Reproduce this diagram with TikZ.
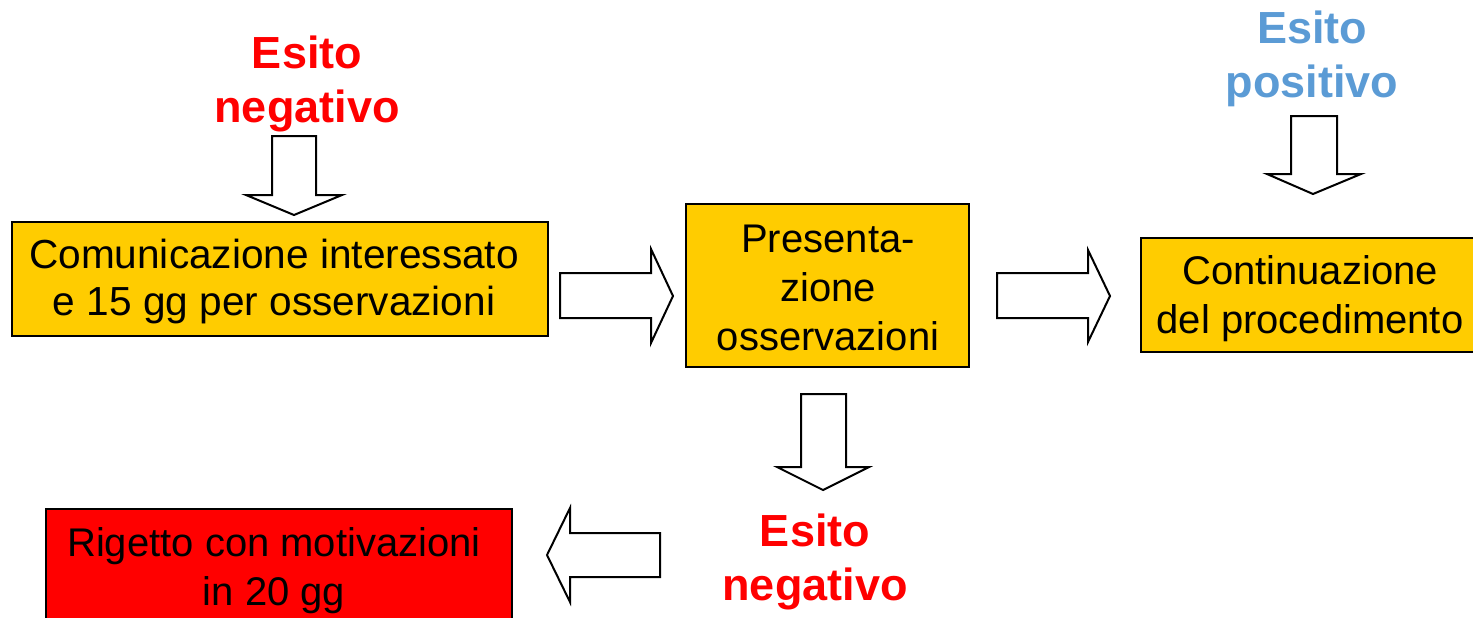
\documentclass[tikz,border=0pt]{standalone}
\usepackage{fontspec}
\setmainfont{Liberation Sans}
\definecolor{boxyellow}{HTML}{FFCC00}
\definecolor{boxred}{HTML}{FF0000}
\definecolor{posblue}{HTML}{5B9BD5}
\begin{document}
\begin{tikzpicture}[x=0.5pt,y=-0.5pt,
  box/.style={draw=black,line width=1pt},
  boxtext/.style={align=center,inner sep=0pt,font=\fontsize{20}{24.5}\selectfont},
  label/.style={align=center,inner sep=0pt,font=\bfseries\fontsize{22.5}{27}\selectfont},
  blockarrow/.style={draw=black,fill=white,line width=1pt,line join=miter}]
\useasboundingbox (0,0) rectangle (1473,617);
\clip (0,0) rectangle (1473,617);
% boxes
\draw[box,fill=boxyellow] (12,222) rectangle (548,336);
\node[boxtext,font=\fontsize{20.3}{23.5}\selectfont] (comm) at (274,281) {Comunicazione interessato\\e 15 gg per osservazioni};
\draw[box,fill=boxyellow] (686,204) rectangle (969,367);
\node[boxtext] (pres) at (828,288) {Presenta-\\zione\\osservazioni};
\draw[box,fill=boxyellow] (1141,238) rectangle (1480,352);
\node[boxtext] (cont) at (1310,299) {Continuazione\\del procedimento};
\draw[box,fill=boxred] (46,509) rectangle (512,630);
\node[boxtext] (rig) at (274,571) {Rigetto con motivazioni\\in 20 gg};
% labels
\node[label,text=boxred] (neg1) at (307,84) {Esito\\negativo};
\node[label,text=posblue] (pos) at (1312,59) {Esito\\positivo};
\node[label,text=boxred] (neg2) at (815,562) {Esito\\negativo};
% block arrows
\draw[blockarrow] (272,136) -- (316,136) -- (316,195) -- (342,195) -- (294,215) -- (246,195) -- (272,195) -- cycle;
\draw[blockarrow] (560,273) -- (651,273) -- (651,249) -- (673,296) -- (651,343) -- (651,318) -- (560,318) -- cycle;
\draw[blockarrow] (997,273) -- (1088,273) -- (1088,250) -- (1110,296) -- (1088,342) -- (1088,318) -- (997,318) -- cycle;
\draw[blockarrow] (1291,116) -- (1337,116) -- (1337,174) -- (1361,174) -- (1313,194) -- (1267,174) -- (1291,174) -- cycle;
\draw[blockarrow] (801,394) -- (846,394) -- (846,467) -- (869,467) -- (823,490) -- (777,467) -- (801,467) -- cycle;
\draw[blockarrow] (660,533) -- (570,533) -- (570,508) -- (547,555) -- (570,602) -- (570,577) -- (660,577) -- cycle;
\end{tikzpicture}
\end{document}
